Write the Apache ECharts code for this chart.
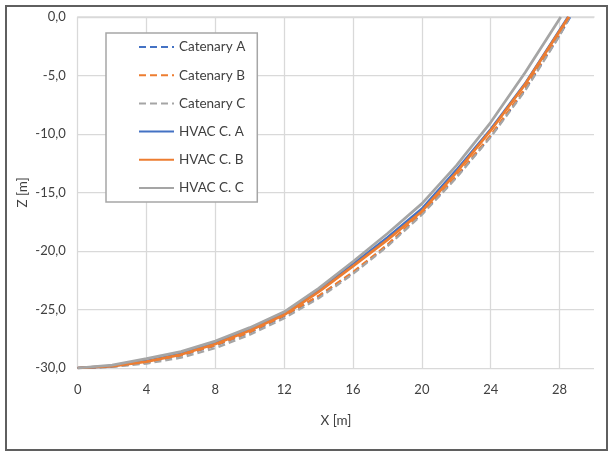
<!DOCTYPE html>
<html>
<head>
<meta charset="utf-8">
<script src="https://cdn.jsdelivr.net/npm/echarts@6/dist/echarts.min.js"></script>
<style>
html,body{margin:0;padding:0;background:#fff;}
#wrap{position:relative;width:609px;height:453px;overflow:hidden;}
#chart{position:absolute;left:0;top:0;width:609px;height:453px;}
#frame{position:absolute;left:5px;top:5px;width:599px;height:442px;border:2px solid #5f5f5f;pointer-events:none;}
</style>
</head>
<body>
<div id="wrap"><div id="chart"></div><div id="frame"></div></div>
<script>
// ---- data ----
const xTicks = [0, 4, 8, 12, 16, 20, 24, 28];
const yTicks = [-30, -25, -20, -15, -10, -5, 0];

const catAX = [0, 2, 4, 6, 8, 10, 12, 14, 16, 18, 20, 22, 24, 26, 28, 28.62];
const catAZ = [-30, -29.88, -29.53, -28.93, -28.08, -26.97, -25.56, -23.88, -21.86, -19.52, -16.8, -13.68, -10.2, -6.2, -1.55, 0];
const catBX = [0, 2, 4, 6, 8, 10, 12, 14, 16, 18, 20, 22, 24, 26, 28, 28.56];
const catBZ = [-30, -29.88, -29.52, -28.92, -28.06, -26.94, -25.52, -23.83, -21.8, -19.45, -16.73, -13.6, -10.1, -6.1, -1.45, 0];
const catCX = [0, 2, 4, 6, 8, 10, 12, 14, 16, 18, 20, 22, 24, 26, 28, 28.58];
const catCZ = [-30, -29.9, -29.62, -29.12, -28.3, -27.15, -25.75, -24.05, -21.95, -19.6, -16.9, -13.75, -10.25, -6.3, -1.6, 0];

const hvacAX = [0, 2, 4, 6, 8, 10, 12, 14, 16, 18, 20, 22, 24, 26, 28.5];
const hvacAZ = [-30, -29.83, -29.4, -28.78, -27.87, -26.7, -25.32, -23.38, -21.15, -18.85, -16.4, -13.1, -9.6, -5.7, 0];
const hvacBX = [0, 2, 4, 6, 8, 10, 12, 14, 16, 18, 20, 22, 24, 26, 28.53];
const hvacBZ = [-30, -29.85, -29.45, -28.85, -27.95, -26.8, -25.45, -23.5, -21.3, -19.05, -16.6, -13.3, -9.7, -5.75, 0];
const hvacCX = [0, 2, 4, 6, 8, 10, 12, 14, 16, 18, 20, 22, 24, 26, 28.07];
const hvacCZ = [-30, -29.75, -29.2, -28.6, -27.7, -26.55, -25.2, -23.2, -20.9, -18.5, -15.95, -12.7, -9.0, -4.75, 0];

const seriesNames = ['Catenary A', 'Catenary B', 'Catenary C', 'HVAC C. A', 'HVAC C. B', 'HVAC C. C'];
const colors = ['#4472C4', '#ED7D31', '#A5A5A5'];

// ---- build ----
function zip(xs, zs) { return xs.map((x, i) => [x, zs[i]]); }
const FONT = 'Lato';
const dashed = [7, 4];

const datasets = [
  zip(catAX, catAZ), zip(catBX, catBZ), zip(catCX, catCZ),
  zip(hvacAX, hvacAZ), zip(hvacBX, hvacBZ), zip(hvacCX, hvacCZ)
];

const series = datasets.map((d, i) => ({
  name: seriesNames[i],
  type: 'line',
  data: d,
  symbol: 'none',
  smooth: false,
  z: i < 3 ? 2 : 3,
  itemStyle: { color: colors[i % 3] },
  lineStyle: {
    color: colors[i % 3],
    width: i < 3 ? 2.25 : 2.75,
    type: i < 3 ? dashed : 'solid'
  }
}));

const xMax = 30;
const gridColor = '#d9d9d9';
const xSplitColors = [];
for (let i = 0; i < xTicks.length; i++) xSplitColors.push(gridColor);
xSplitColors.push('rgba(0,0,0,0)');

const chart = echarts.init(document.getElementById('chart'), null, { renderer: 'canvas' });
chart.setOption({
  animation: false,
  backgroundColor: '#fff',
  textStyle: { fontFamily: FONT },
  grid: { left: 77.7, right: 15, top: 17, bottom: 85, containLabel: false },
  legend: {
    show: true,
    orient: 'vertical',
    left: 106,
    top: 33,
    data: seriesNames,
    backgroundColor: '#fff',
    borderColor: '#a6a6a6',
    borderWidth: 1.5,
    padding: [7, 12, 7, 32],
    itemGap: 14.2,
    itemWidth: 35,
    itemHeight: 14,
    itemStyle: { opacity: 0 },
    textStyle: { fontFamily: FONT, fontSize: 13.5, color: '#404040' },
    selectedMode: false
  },
  xAxis: {
    type: 'value',
    min: xTicks[0],
    max: xMax,
    interval: 4,
    name: 'X [m]',
    nameLocation: 'middle',
    nameGap: 46,
    nameMoveOverlap: false,
    nameTextStyle: { fontFamily: FONT, fontSize: 13.5, color: '#404040' },
    axisLine: { show: true, lineStyle: { color: gridColor, width: 1.5 } },
    axisTick: { show: false },
    axisLabel: {
      fontFamily: FONT, fontSize: 13, color: '#404040', margin: 15,
      formatter: function (v) { return xTicks.indexOf(v) >= 0 ? String(v) : ''; }
    },
    splitLine: { show: true, lineStyle: { color: xSplitColors, width: 1.25 } }
  },
  yAxis: {
    type: 'value',
    min: yTicks[0],
    max: yTicks[yTicks.length - 1],
    interval: 5,
    name: 'Z [m]',
    nameLocation: 'middle',
    nameGap: 48,
    nameMoveOverlap: false,
    nameTextStyle: { fontFamily: FONT, fontSize: 13.5, color: '#404040' },
    axisLine: { show: false },
    axisTick: { show: false },
    axisLabel: {
      fontFamily: FONT, fontSize: 13, color: '#404040', margin: 12,
      formatter: function (v) { return v.toFixed(1).replace('.', ','); }
    },
    splitLine: { show: true, lineStyle: { color: gridColor, width: 1.25 } }
  },
  series: series
});
</script>
</body>
</html>
